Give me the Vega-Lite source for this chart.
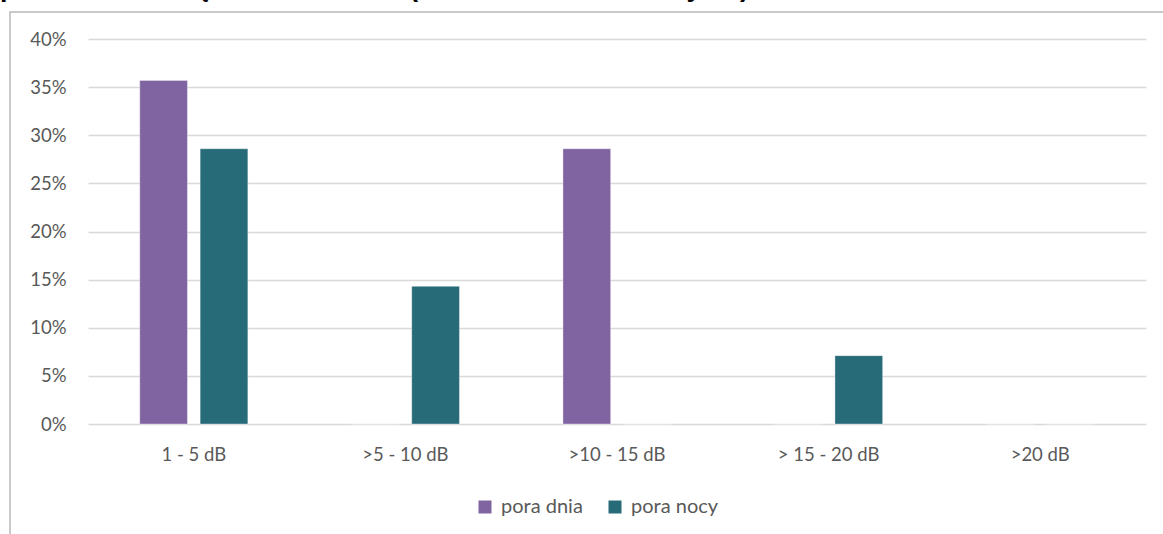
{
  "$schema": "https://vega.github.io/schema/vega-lite/v6.json",
  "autosize": {"type": "none"},
  "padding": {"left": 10, "top": 12, "right": -6, "bottom": -6},
  "width": 1159,
  "height": 528,
  "background": "white",
  "title": {
    "text": "poziomów dźwięku w 2021 roku (źródło: WIOŚ w Olsztynie)",
    "anchor": "start",
    "frame": "group",
    "dx": -10,
    "dy": 12,
    "offset": 0,
    "baseline": "alphabetic",
    "font": "Liberation Sans",
    "fontSize": 26.7,
    "fontWeight": "bold",
    "color": "#000000"
  },
  "data": {
    "values": [
      {"kategoria": "1 - 5 dB", "pora": "pora dnia", "udzial": 0.357},
      {"kategoria": "1 - 5 dB", "pora": "pora nocy", "udzial": 0.286},
      {"kategoria": ">5 - 10 dB", "pora": "pora dnia", "udzial": 0},
      {"kategoria": ">5 - 10 dB", "pora": "pora nocy", "udzial": 0.143},
      {"kategoria": ">10 - 15 dB", "pora": "pora dnia", "udzial": 0.286},
      {"kategoria": ">10 - 15 dB", "pora": "pora nocy", "udzial": 0},
      {"kategoria": "> 15 - 20 dB", "pora": "pora dnia", "udzial": 0},
      {"kategoria": "> 15 - 20 dB", "pora": "pora nocy", "udzial": 0.071},
      {"kategoria": ">20 dB", "pora": "pora dnia", "udzial": 0},
      {"kategoria": ">20 dB", "pora": "pora nocy", "udzial": 0}
    ]
  },
  "mark": {"type": "bar", "stroke": "#ffffff", "strokeWidth": 0.6, "strokeOpacity": 0.6},
  "encoding": {
    "x": {
      "field": "kategoria",
      "type": "nominal",
      "sort": null,
      "scale": {"range": [78, 1136], "paddingInner": 0, "paddingOuter": 0},
      "axis": {
        "title": null,
        "orient": "bottom",
        "offset": -116,
        "domain": false,
        "ticks": false,
        "grid": false,
        "labelAngle": 0,
        "labelPadding": 21,
        "labelFont": "Lato",
        "labelFontSize": 18.5,
        "labelColor": "#595959"
      }
    },
    "xOffset": {
      "field": "pora",
      "type": "nominal",
      "scale": {"paddingInner": 0.21, "paddingOuter": 0.857}
    },
    "y": {
      "field": "udzial",
      "type": "quantitative",
      "scale": {"domain": [0, 0.4], "range": [412, 27], "nice": false, "zero": true},
      "axis": {
        "title": null,
        "orient": "left",
        "offset": -78,
        "values": [0, 0.05, 0.1, 0.15, 0.2, 0.25, 0.3, 0.35, 0.4],
        "format": ".0%",
        "domain": false,
        "ticks": false,
        "grid": true,
        "gridColor": "#d9d9d9",
        "gridWidth": 1.5,
        "labelPadding": 22,
        "labelFont": "Lato",
        "labelFontSize": 18.5,
        "labelColor": "#595959"
      }
    },
    "color": {
      "field": "pora",
      "type": "nominal",
      "scale": {"domain": ["pora dnia", "pora nocy"], "range": ["#8064a2", "#276a78"]},
      "legend": {
        "title": null,
        "orient": "none",
        "legendX": 465,
        "legendY": 485,
        "direction": "horizontal",
        "symbolType": "square",
        "symbolSize": 169,
        "symbolStrokeWidth": 0,
        "labelFont": "Lato",
        "labelFontSize": 20,
        "labelColor": "#595959",
        "labelOffset": 6,
        "columnPadding": 22
      }
    }
  },
  "config": {
    "view": {"stroke": "#b8b8b8", "strokeWidth": 1.5}
  }
}
